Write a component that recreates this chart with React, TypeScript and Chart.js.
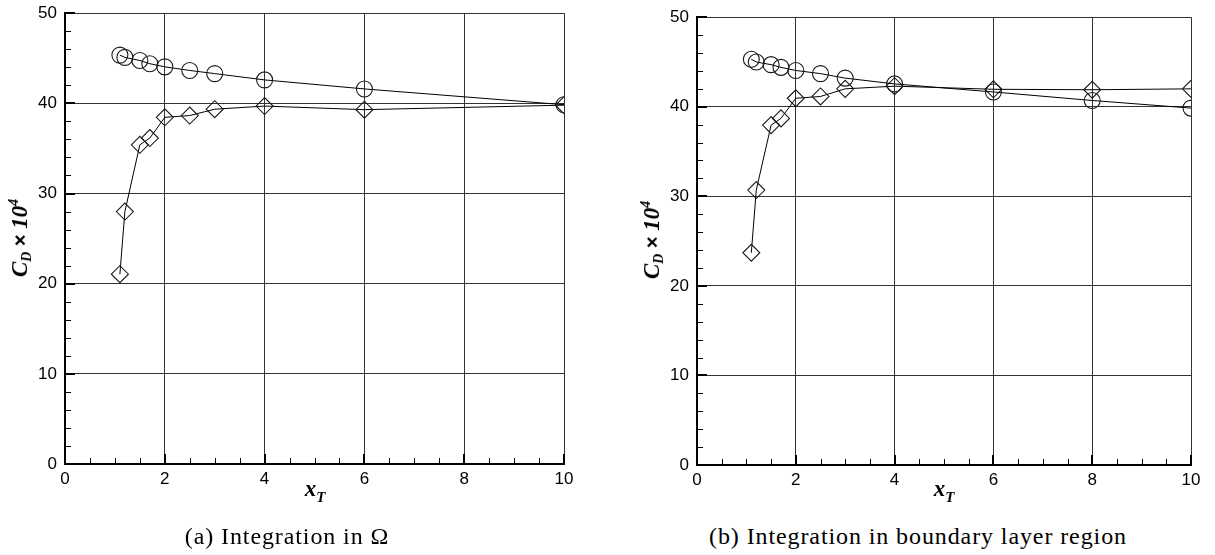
import React, { useEffect, useRef } from "react";
import { Chart, registerables } from "chart.js";

Chart.register(...registerables);

// Transition location x_T sampled in each study
const xOmega = [1.1, 1.2, 1.5, 1.7, 2, 2.5, 3, 4, 6, 10];
// Drag coefficient (C_D × 10^4), integration over the whole domain
const circlesOmega = [45.35, 45.1, 44.75, 44.4, 44.05, 43.65, 43.3, 42.6, 41.6, 39.85];
const diamondsOmega = [21.05, 28.0, 35.4, 36.15, 38.45, 38.65, 39.35, 39.7, 39.3, 39.8];

const xLayer = [1.1, 1.2, 1.5, 1.7, 2, 2.5, 3, 4, 6, 8, 10];
// Drag coefficient (C_D × 10^4), integration in the boundary layer region
const circlesLayer = [45.3, 45.0, 44.7, 44.4, 44.05, 43.7, 43.2, 42.55, 41.65, 40.7, 39.85];
const diamondsLayer = [23.7, 30.7, 37.95, 38.7, 40.95, 41.15, 42.0, 42.3, 41.95, 41.9, 42.0];

const xTicks = [0, 2, 4, 6, 8, 10];
const yTicks = [0, 10, 20, 30, 40, 50];
const xMinorStep = 0.5;
const yMinorStep = 2;

const captionA = "(a) Integration in Ω";
const captionB = "(b) Integration in boundary layer region";

const TICK_FONT = { family: "'Liberation Sans', Arial, sans-serif", size: 17 };

// Inward-pointing tick marks along the left and bottom axes
const tickMarks = {
  id: "tickMarks",
  afterDraw(chart: any) {
    const { ctx, chartArea: a, scales } = chart;
    const xs = scales.x;
    const ys = scales.y;
    ctx.save();
    ctx.strokeStyle = "#000";
    ctx.lineWidth = 1;
    ctx.beginPath();
    for (let v = xs.min + xMinorStep; v < xs.max; v += xMinorStep) {
      if (xTicks.some((t) => Math.abs(t - v) < 1e-6)) continue;
      const px = Math.round(xs.getPixelForValue(v)) + 0.5;
      ctx.moveTo(px, a.bottom);
      ctx.lineTo(px, a.bottom - 6);
    }
    for (let v = ys.min + yMinorStep; v < ys.max; v += yMinorStep) {
      if (yTicks.some((t) => Math.abs(t - v) < 1e-6)) continue;
      const py = Math.round(ys.getPixelForValue(v)) + 0.5;
      ctx.moveTo(a.left, py);
      ctx.lineTo(a.left + 6, py);
    }
    ctx.stroke();
    ctx.lineWidth = 2;
    ctx.beginPath();
    for (const t of xTicks) {
      const px = Math.round(xs.getPixelForValue(t));
      ctx.moveTo(px, a.bottom);
      ctx.lineTo(px, a.bottom - 10);
    }
    for (const t of yTicks) {
      const py = Math.round(ys.getPixelForValue(t));
      ctx.moveTo(a.left, py);
      ctx.lineTo(a.left + 10, py);
    }
    ctx.stroke();
    ctx.restore();
  },
};

function makeConfig(xs: number[], circles: number[], diamonds: number[]): any {
  const toPoints = (ys: number[]) => xs.map((x, i) => ({ x, y: ys[i] }));
  const seriesStyle = {
    showLine: true,
    borderColor: "#000",
    borderWidth: 1,
    pointBorderColor: "#1a1a1a",
    pointBackgroundColor: "rgba(0,0,0,0)",
    pointBorderWidth: 1.1,
  };
  return {
    type: "scatter",
    data: {
      datasets: [
        { ...seriesStyle, data: toPoints(circles), pointStyle: "circle", pointRadius: 8 },
        { ...seriesStyle, data: toPoints(diamonds), pointStyle: "rectRot", pointRadius: 8.5 },
      ],
    },
    options: {
      responsive: false,
      animation: false,
      events: [],
      layout: { padding: { left: 0, top: 12, right: 36, bottom: 0 } },
      plugins: { legend: { display: false }, tooltip: { enabled: false } },
      scales: {
        x: {
          type: "linear",
          min: 0,
          max: 10,
          afterBuildTicks: (s: any) => {
            s.ticks = xTicks.map((value) => ({ value }));
          },
          afterFit: (s: any) => {
            s.height = 36;
          },
          grid: { color: "#333", lineWidth: 1, drawTicks: false },
          border: { color: "#000", width: 2 },
          ticks: { color: "#000", font: TICK_FONT, padding: 5, maxRotation: 0 },
        },
        y: {
          type: "linear",
          min: 0,
          max: 50,
          afterBuildTicks: (s: any) => {
            s.ticks = yTicks.map((value) => ({ value }));
          },
          afterFit: (s: any) => {
            s.width = 65;
          },
          grid: { color: "#333", lineWidth: 1, drawTicks: false },
          border: { color: "#000", width: 2 },
          ticks: { color: "#000", font: TICK_FONT, padding: 8 },
        },
      },
    },
    plugins: [tickMarks],
  };
}

function Plot(props: {
  xs: number[];
  circles: number[];
  diamonds: number[];
  left: number;
  top: number;
  width: number;
  height: number;
}) {
  const ref = useRef<HTMLCanvasElement | null>(null);
  useEffect(() => {
    if (!ref.current) return;
    const chart = new Chart(ref.current, makeConfig(props.xs, props.circles, props.diamonds));
    return () => chart.destroy();
  }, []);
  return (
    <canvas
      ref={ref}
      width={props.width}
      height={props.height}
      style={{ position: "absolute", left: props.left, top: props.top, width: props.width, height: props.height }}
    />
  );
}

const titleFont: React.CSSProperties = {
  fontFamily: "'Liberation Serif', 'Times New Roman', serif",
  fontWeight: "bold",
  fontStyle: "italic",
  fontSize: 23,
  lineHeight: "23px",
  color: "#000",
  whiteSpace: "nowrap",
};

function YTitle({ cx, cy }: { cx: number; cy: number }) {
  return (
    <div
      style={{
        ...titleFont,
        position: "absolute",
        left: cx,
        top: cy,
        transform: "translate(-50%, -50%) rotate(-90deg)",
      }}
    >
      C<sub style={{ fontSize: 14, verticalAlign: "-4px" }}>D</sub>
      <span style={{ fontFamily: "'Liberation Sans', Arial, sans-serif", fontStyle: "normal", fontSize: 20 }}> × </span>
      10<sup style={{ fontSize: 14, verticalAlign: "9px" }}>4</sup>
    </div>
  );
}

function XTitle({ cx, top }: { cx: number; top: number }) {
  return (
    <div style={{ ...titleFont, position: "absolute", left: cx, top, transform: "translateX(-50%)" }}>
      x<sub style={{ fontSize: 15, verticalAlign: "-6px" }}>T</sub>
    </div>
  );
}

function Caption({ cx, top, text }: { cx: number; top: number; text: string }) {
  return (
    <div
      style={{
        position: "absolute",
        left: cx,
        top,
        transform: "translateX(-50%)",
        fontFamily: "'Liberation Serif', 'Times New Roman', serif",
        fontSize: 24,
        lineHeight: "24px",
        letterSpacing: "0.9px",
        color: "#000",
        whiteSpace: "nowrap",
      }}
    >
      {text}
    </div>
  );
}

export default function App() {
  return (
    <div style={{ position: "absolute", left: 0, top: 0, width: 1215, height: 555, background: "#fff", overflow: "hidden" }}>
      <Plot xs={xOmega} circles={circlesOmega} diamonds={diamondsOmega} left={0} top={-5} width={600} height={505} />
      <Plot xs={xLayer} circles={circlesLayer} diamonds={diamondsLayer} left={632} top={-1} width={595} height={502} />
      <YTitle cx={20} cy={238} />
      <YTitle cx={652} cy={240} />
      <XTitle cx={315} top={477} />
      <XTitle cx={944} top={477} />
      <Caption cx={287} top={524} text={captionA} />
      <Caption cx={918} top={524} text={captionB} />
    </div>
  );
}
